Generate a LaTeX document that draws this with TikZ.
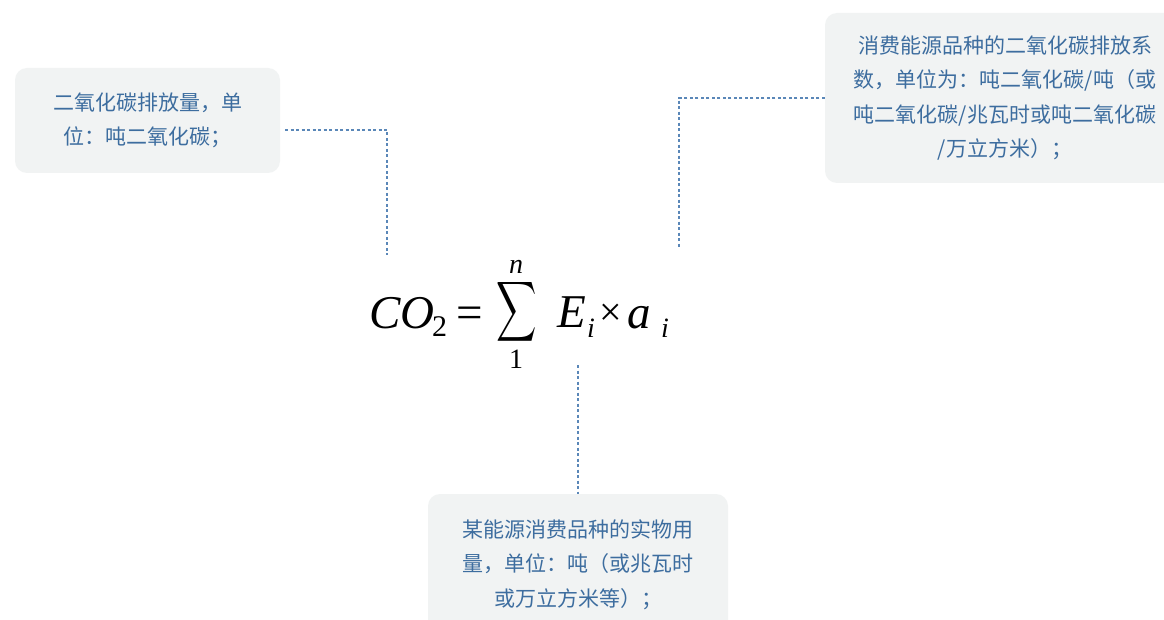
\documentclass[tikz,border=0pt]{standalone}
\usepackage{fontspec}
\newfontfamily\cjk{Noto Sans CJK SC}
\newfontfamily\tnr{Liberation Serif}
\definecolor{boxfill}{HTML}{F1F3F3}
\definecolor{txtblue}{HTML}{3D6D9F}
\definecolor{lineblue}{HTML}{5A87B8}
\begin{document}
\begin{tikzpicture}[x=1pt,y=-1pt,
  note/.style={fill=boxfill, rounded corners=12pt, text=txtblue,
    font=\cjk\fontsize{21}{34.5}\selectfont, align=center, inner sep=0pt},
  link/.style={draw=lineblue, line width=1.3pt, dash pattern=on 3pt off 2.5pt},
  fmbig/.style={inner sep=0pt, anchor=base west, font=\tnr\fontsize{47}{47}\selectfont},
  fmsmall/.style={inner sep=0pt, anchor=base west, font=\tnr\fontsize{28}{28}\selectfont}]
\useasboundingbox (0,0) rectangle (1164,620);
\clip (0,0) rectangle (1164,620);
\fill[white] (0,0) rectangle (1164,620);

% notes
\node[note, minimum width=265pt, minimum height=105pt] (b1) at (147.5,120.5)
  {二氧化碳排放量，单\\位：吨二氧化碳；};
\node[note, minimum width=360pt, minimum height=170pt] (b2) at (1005,98)
  {消费能源品种的二氧化碳排放系\\数，单位为：吨二氧化碳/吨（或\\吨二氧化碳/兆瓦时或吨二氧化碳\\/万立方米）；};
\node[note, minimum width=300pt, minimum height=141pt] (b3) at (578,564.5)
  {某能源消费品种的实物用\\量，单位：吨（或兆瓦时\\或万立方米等）；};

% formula
\node[fmbig] (co) at (369,328) {\itshape CO};
\node[inner sep=0pt, anchor=base west, font=\tnr\fontsize{30}{30}\selectfont] (two) at (432,336) {2};
\node[fmbig] (eq) at (456,328) {=};
\node[inner sep=0pt] (sum) at (517,312) {\scalebox{2.8}[4.2]{$\displaystyle\sum$}};
\node[fmsmall] (nn) at (509,273) {\itshape n};
\node[fmsmall] (one) at (509,368) {1};
\node[fmbig] (E) at (557,327) {\itshape E};
\node[fmsmall] (i1) at (587,337) {\itshape i};
\node[inner sep=0pt, font=\tnr\fontsize{40}{40}\selectfont] (times) at (611,315) {×};
\node[fmbig] (a) at (627,328) {\itshape a};
\node[fmsmall] (i2) at (661,337) {\itshape i};

% connector ends
\coordinate (s1) at (285,130);
\coordinate (e1) at (387,255);
\coordinate (e2) at (679,248);
\coordinate (s3) at (578,365);

\draw[link] (s1) -| (e1);
\draw[link] (b2.west) -| (e2);
\draw[link] (s3) -- (b3.north);
\end{tikzpicture}
\end{document}
